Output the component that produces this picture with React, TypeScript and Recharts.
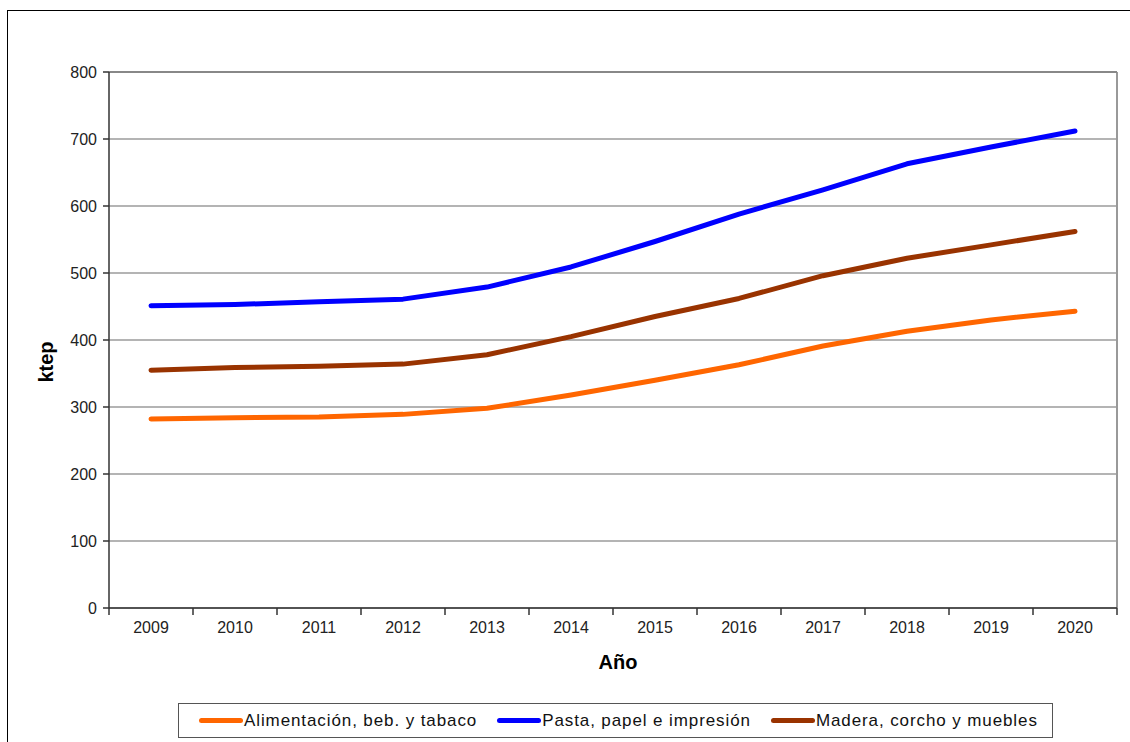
import React from "react";
import {
  CartesianGrid,
  Label,
  Line,
  LineChart,
  ReferenceLine,
  XAxis,
  YAxis,
} from "recharts";

const years = [2009, 2010, 2011, 2012, 2013, 2014, 2015, 2016, 2017, 2018, 2019, 2020];
const alimentacion = [282, 284, 285, 289, 298, 318, 340, 363, 391, 413, 430, 443];
const pasta = [451, 453, 457, 461, 479, 509, 547, 588, 624, 663, 688, 712];
const madera = [355, 359, 361, 364, 378, 405, 435, 462, 496, 522, 542, 562];
const yTicks = [0, 100, 200, 300, 400, 500, 600, 700, 800];

const series = [
  { key: "alimentacion", name: "Alimentación, beb. y tabaco", color: "#ff6600" },
  { key: "pasta", name: "Pasta, papel e impresión", color: "#0000ff" },
  { key: "madera", name: "Madera, corcho y muebles", color: "#993300" },
];

const data = years.map((year, i) => ({
  year,
  alimentacion: alimentacion[i],
  pasta: pasta[i],
  madera: madera[i],
}));

// category boundaries (Excel-style tick marks between years) plus the year labels
const xTicks = [...years.map((y) => y - 0.5), years[years.length - 1] + 0.5, ...years].sort(
  (a, b) => a - b
);

const font = "'Liberation Sans', Arial, sans-serif";

const YearTick = (props: any) => {
  const { x, y, payload } = props;
  const v = payload.value as number;
  if (Number.isInteger(v)) {
    return (
      <text x={x} y={y + 25} textAnchor="middle" fontSize={16} fontFamily={font} fill="#222">
        {v}
      </text>
    );
  }
  return <line x1={x} x2={x} y1={y} y2={y + 7} stroke="#333" strokeWidth={1.5} />;
};

export default function App() {
  return (
    <div
      style={{
        position: "fixed",
        left: 0,
        top: 0,
        width: 1130,
        height: 742,
        background: "#fff",
        fontFamily: font,
        overflow: "hidden",
      }}
    >
      <div
        style={{
          position: "absolute",
          left: 7,
          top: 10,
          width: 1200,
          height: 800,
          borderLeft: "1.5px solid #000",
          borderTop: "1.5px solid #000",
        }}
      />
      <div style={{ position: "absolute", left: 0, top: 0 }}>
        <LineChart
          width={1130}
          height={742}
          data={data}
          margin={{ top: 72, right: 13, bottom: 54, left: 0 }}
        >
          <CartesianGrid vertical={false} stroke="#6a6a6a" strokeWidth={1.2} />
          <XAxis
            dataKey="year"
            type="number"
            domain={[2008.5, 2020.5]}
            ticks={xTicks}
            interval={0}
            tickLine={false}
            tickSize={0}
            tickMargin={0}
            tick={<YearTick />}
            height={80}
            axisLine={{ stroke: "#333", strokeWidth: 1.5 }}
          >
            <Label
              content={() => (
                <text
                  x={618}
                  y={669}
                  textAnchor="middle"
                  fontSize={20}
                  fontWeight="bold"
                  fontFamily={font}
                  fill="#000"
                >
                  Año
                </text>
              )}
            />
          </XAxis>
          <YAxis
            domain={[0, 800]}
            ticks={yTicks}
            interval={0}
            width={109}
            tickSize={6}
            tickMargin={6}
            tickLine={{ stroke: "#333", strokeWidth: 1.5 }}
            axisLine={{ stroke: "#333", strokeWidth: 1.5 }}
            tick={{ fontSize: 16, fontFamily: font, fill: "#222" }}
          >
            <Label
              content={() => (
                <text
                  x={46}
                  y={362}
                  transform="rotate(-90, 46, 362)"
                  textAnchor="middle"
                  dominantBaseline="central"
                  fontSize={20}
                  fontWeight="bold"
                  fontFamily={font}
                  fill="#000"
                >
                  ktep
                </text>
              )}
            />
          </YAxis>
          <ReferenceLine x={2020.5} stroke="#999" strokeWidth={2} />
          <ReferenceLine y={800} stroke="#888" strokeWidth={2} />
          {series.map((s) => (
            <Line
              key={s.key}
              dataKey={s.key}
              name={s.name}
              type="linear"
              stroke={s.color}
              strokeWidth={5}
              strokeLinecap="round"
              strokeLinejoin="round"
              dot={false}
              activeDot={false}
              isAnimationActive={false}
            />
          ))}
        </LineChart>
      </div>
      <div
        style={{
          position: "absolute",
          left: 178,
          top: 703,
          width: 875,
          height: 35,
          border: "1.5px solid #555",
          display: "flex",
          alignItems: "center",
          boxSizing: "border-box",
          paddingLeft: 20,
          whiteSpace: "nowrap",
        }}
      >
        {series.map((s) => (
          <div
            key={s.key}
            style={{ display: "flex", alignItems: "center", marginRight: 20, flexShrink: 0 }}
          >
            <div style={{ width: 44, height: 5, borderRadius: 3, background: s.color }} />
            <span style={{ fontSize: 17, letterSpacing: 0.9, color: "#111", marginLeft: 1 }}>
              {s.name}
            </span>
          </div>
        ))}
      </div>
    </div>
  );
}
